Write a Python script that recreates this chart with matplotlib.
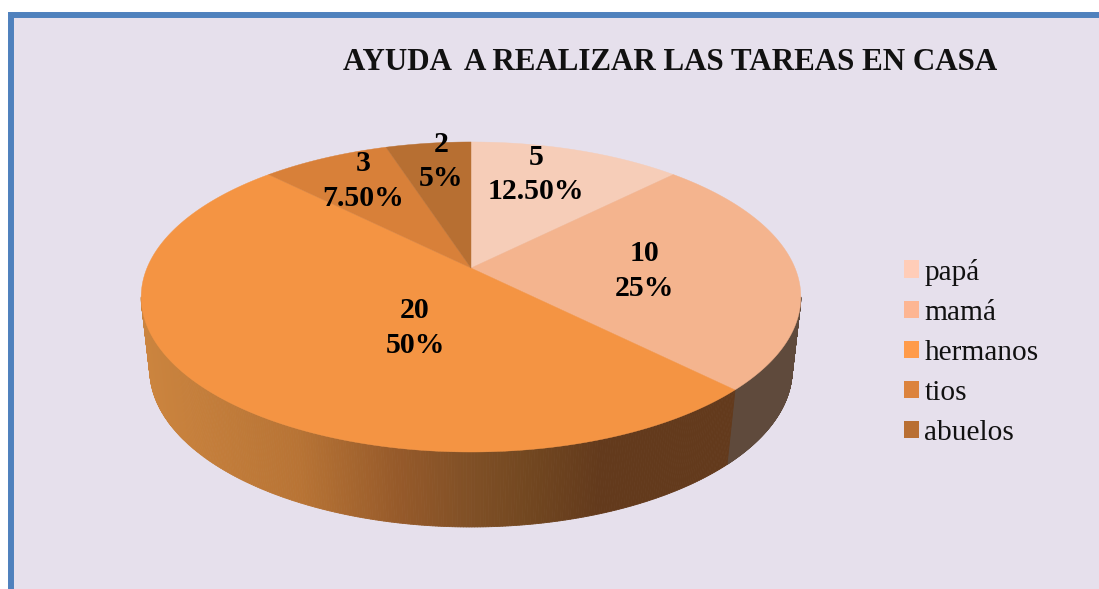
#!/usr/bin/python3

import numpy as np
import matplotlib
matplotlib.use('Agg')
import matplotlib.pyplot as plt
from matplotlib.patches import Rectangle, Polygon
from matplotlib.collections import PolyCollection

# Datos del grafico
categorias = ['papá', 'mamá', 'hermanos', 'tios', 'abuelos']
valores = [5, 10, 20, 3, 2]
porcentajes = ['12.50%', '25%', '50%', '7.50%', '5%']
colores = ['#F6CDB8', '#F4B48E', '#F49443', '#D88039', '#B76F32']
colores_leyenda = ['#FFCDB8', '#FDB693', '#FF9B4A', '#DC833D', '#B96F33']
pos_etiquetas = [(536, 174.5), (644, 271), (415, 328), (363, 181), (441, 161.5)]

plt.rcParams['font.family'] = ['Liberation Serif', 'DejaVu Serif']

ANCHO, ALTO = 1099, 589
fig = plt.figure(figsize=(ANCHO / 100, ALTO / 100), dpi=100, facecolor='white')
ax = fig.add_axes([0, 0, 1, 1])
ax.set_xlim(0, ANCHO)
ax.set_ylim(ALTO, 0)
ax.axis('off')

# Panel de fondo con borde azul
ax.add_patch(Rectangle((10.5, 14.5), 1200, 700, facecolor='#E6E0EC',
                       edgecolor='#4F81BD', linewidth=4.3, zorder=0))


# Circulo en perspectiva: angulo desde arriba en sentido horario
def aro(theta, x0, y0, a, b, k):
    sx, cy = np.sin(theta), np.cos(theta)
    d = 1 + k * cy
    return x0 + b * sx / d, y0 - a * cy / d


def aro_sup(theta):
    return aro(theta, 471, 268, 149.6, 324, 0.187)


def aro_inf(theta):
    return aro(theta, 471, 341, 152.5, 316, 0.18)


# Angulos de cada sector a partir de los valores
fracciones = np.array(valores) / np.sum(valores)
bordes = np.concatenate([[0], np.cumsum(fracciones)]) * 2 * np.pi

# Solo se ve el lado entre las tangentes del aro
tangente = np.arccos(-0.187)


def lado(t0, t1, color_fn):
    t = np.linspace(t0, t1, 300)
    xs, ys = aro_sup(t)
    xi, yi = aro_inf(t)
    quads, cols = [], []
    for i in range(len(t) - 1):
        quads.append([(xs[i], ys[i]), (xs[i + 1], ys[i + 1]), (xi[i + 1], yi[i + 1]), (xi[i], yi[i])])
        cols.append(color_fn((xs[i] + xi[i]) / 2))
    ax.add_collection(PolyCollection(quads, facecolors=cols, edgecolors=cols, linewidths=0.6, zorder=2))


# Degradado del lado de hermanos
grad_x = [140, 300, 400, 471, 530, 600, 740]
grad_r = [0xCC, 0xB8, 0x96, 0x80, 0x72, 0x63, 0x63]
grad_g = [0x85, 0x74, 0x5A, 0x50, 0x47, 0x3A, 0x3A]
grad_b = [0x3F, 0x35, 0x2A, 0x26, 0x20, 0x1C, 0x1C]


def color_hermanos(x):
    return (np.interp(x, grad_x, grad_r) / 255, np.interp(x, grad_x, grad_g) / 255,
            np.interp(x, grad_x, grad_b) / 255)


lado(tangente, bordes[2], lambda x: '#5F4A3C')
lado(bordes[2], 2 * np.pi - tangente, color_hermanos)

# Cara superior
for i in range(len(valores)):
    t = np.linspace(bordes[i], bordes[i + 1], 200)
    x, y = aro_sup(t)
    pts = np.column_stack([np.r_[471, x], np.r_[268, y]])
    ax.add_patch(Polygon(pts, closed=True, facecolor=colores[i], edgecolor=colores[i],
                         linewidth=0.3, zorder=3))

# Etiquetas de datos
for v, p, (x, y) in zip(valores, porcentajes, pos_etiquetas):
    ax.text(x, y, f'{v}\n{p}', ha='center', va='center', fontsize=21.4, fontweight='bold',
            color='black', linespacing=1.35, zorder=5)

ax.text(670, 63, 'AYUDA  A REALIZAR LAS TAREAS EN CASA', ha='center', va='center',
        fontsize=22.3, fontweight='bold', color='#111111', zorder=5)

# Leyenda
manijas = [Rectangle((0, 0), 1, 1, facecolor=c, edgecolor='none') for c in colores_leyenda]
ley = ax.legend(manijas, categorias, loc='upper left', bbox_to_anchor=(904 / ANCHO, 1 - 258.5 / ALTO),
                frameon=False, fontsize=21.2, handlelength=0.52, handleheight=0.52,
                handletextpad=0.17, labelspacing=0.48, borderpad=0, borderaxespad=0, labelcolor='#111111')

fig.savefig('out.png', dpi=100)
